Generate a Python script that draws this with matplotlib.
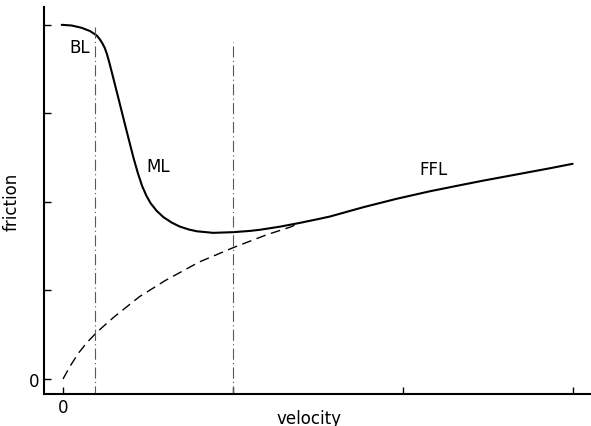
import matplotlib.pyplot as plt

plt.rcParams['font.family'] = ['Liberation Sans Narrow', 'DejaVu Sans']

# кривая Штрибека: полная сила трения
v_total = [-0.008, 0.051, 0.11, 0.159, 0.198, 0.215, 0.23, 0.245, 0.258, 0.272,
           0.286, 0.30, 0.325, 0.355, 0.384, 0.414, 0.44, 0.465, 0.49, 0.515,
           0.55, 0.59, 0.64, 0.688, 0.74, 0.786, 0.884, 1.002, 1.1, 1.159,
           1.276, 1.394, 1.512, 1.571, 1.767, 1.963, 2.159, 2.335, 2.472, 2.669,
           2.865, 2.998]
f_total = [4.0, 3.992, 3.966, 3.929, 3.879, 3.84, 3.795, 3.74, 3.67, 3.575,
           3.47, 3.365, 3.175, 2.945, 2.725, 2.50, 2.325, 2.18, 2.07, 1.985,
           1.90, 1.828, 1.765, 1.72, 1.688, 1.668, 1.65, 1.658, 1.672, 1.685,
           1.72, 1.763, 1.81, 1.835, 1.94, 2.035, 2.12, 2.188, 2.24, 2.31,
           2.38, 2.43]
# вязкое (гидродинамическое) трение
v_visc = [0.0, 0.04, 0.09, 0.14, 0.20, 0.30, 0.45, 0.60, 0.80, 1.01, 1.20, 1.335, 1.394]
f_visc = [0.0, 0.14, 0.29, 0.41, 0.53, 0.70, 0.93, 1.11, 1.32, 1.49, 1.63, 1.714, 1.763]
# границы режимов и высота линий
v_bound = [0.19, 1.0]
f_bound_top = [4.01, 3.81]
# подписи режимов
regimes = ['BL', 'ML', 'FFL']
regime_pos = [(0.10, 3.75), (0.56, 2.40), (2.18, 2.37)]

fig = plt.figure(figsize=(5.91, 4.27), dpi=100)
ax = fig.add_axes([0.0745, 0.075, 0.9255, 0.906])

ax.plot(v_total, f_total, color='black', linewidth=1.5,
        solid_joinstyle='round', solid_capstyle='round')
ax.plot(v_visc, f_visc, color='black', linewidth=1.0, linestyle=(0, (7, 4)))
for v, top in zip(v_bound, f_bound_top):
    ax.plot([v, v], [-0.2, top], color='0.35', linewidth=0.8,
            linestyle=(0, (10, 3, 1, 3)))

for name, (x, y) in zip(regimes, regime_pos):
    ax.text(x, y, name, fontsize=12, ha='center', va='center')

ax.set_xlim(-0.112, 3.106)
ax.set_ylim(-0.17, 4.2)
ax.spines['top'].set_visible(False)
ax.spines['right'].set_visible(False)
ax.spines['left'].set_linewidth(1.5)
ax.spines['bottom'].set_linewidth(1.5)

ax.set_xticks([0, 1, 2, 3])
ax.set_xticklabels(['0', '', '', ''])
ax.set_yticks([0, 1, 2, 3, 4])
ax.set_yticklabels(['0', '', '', '', ''])
ax.tick_params(direction='in', length=5, width=1.0, labelsize=12, pad=3)

ax.set_xlabel('velocity', fontsize=12)
ax.xaxis.set_label_coords(0.484, -0.038)
ax.set_ylabel('friction', fontsize=12, labelpad=6)

fig.savefig('out.png', dpi=100)
